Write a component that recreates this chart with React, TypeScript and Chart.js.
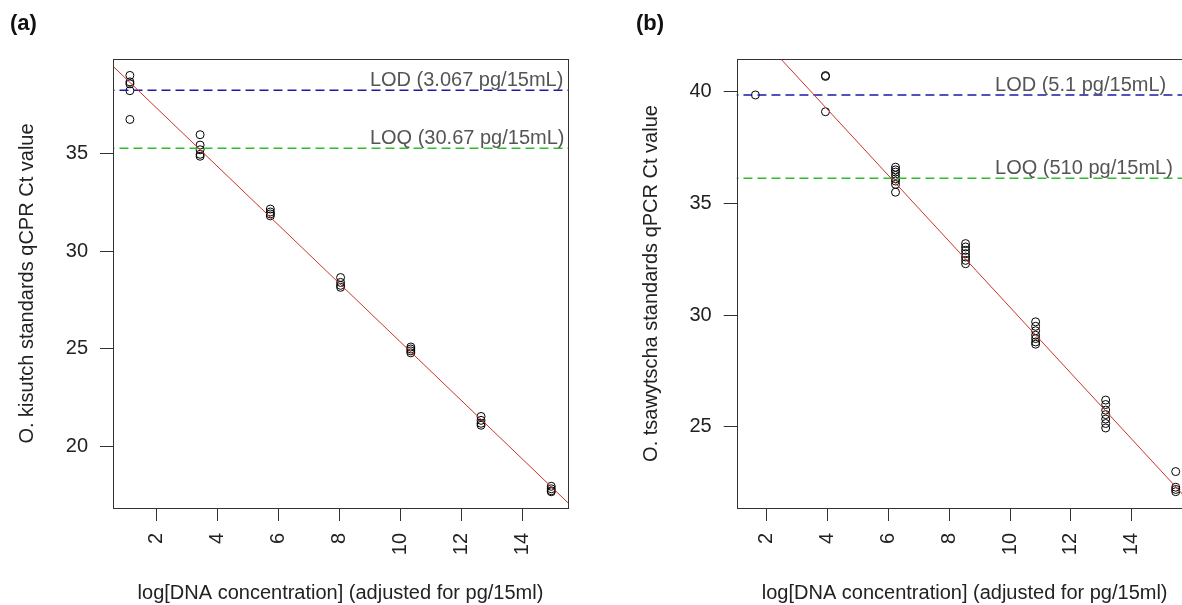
import React, { useEffect, useRef } from "react";
import { Chart, registerables } from "chart.js";

Chart.register(...registerables);

const FONT = "'Liberation Sans', Arial, sans-serif";

// ---------- shared ----------
const xTicks = [2, 4, 6, 8, 10, 12, 14];
const xTitle = "log[DNA concentration] (adjusted for pg/15ml)";

// ---------- panel (a) O. kisutch ----------
const logConcA = [1.121, 3.423, 5.726, 8.029, 10.331, 12.634, 14.936];
const ctA = [
  [38.98, 38.65, 38.55, 38.2, 36.73],
  [35.95, 35.42, 35.18, 34.95, 34.85],
  [32.15, 32.0, 31.9, 31.8],
  [28.65, 28.4, 28.25, 28.15],
  [25.1, 25.0, 24.9, 24.8],
  [21.55, 21.35, 21.2, 21.1],
  [17.98, 17.85, 17.75, 17.7],
];
const yTicksA = [20, 25, 30, 35];
const xRangeA = [0.567, 15.485];
const yRangeA = [16.87, 39.82];
const fitA = { intercept: 40.3, slope: -1.496 };
const limitValuesA = [38.22, 35.26];
const limitLabelsA = ["LOD (3.067 pg/15mL)", "LOQ (30.67 pg/15mL)"];
const yTitleA = "O. kisutch standards qCPR Ct value";

// ---------- panel (b) O. tsawytscha ----------
const logConcB = [1.629, 3.932, 6.234, 8.537, 10.84, 13.143, 15.445];
const ctB = [
  [39.85],
  [40.72, 40.68, 39.1],
  [36.62, 36.5, 36.4, 36.25, 36.1, 36.0, 35.85, 35.5],
  [33.2, 33.05, 32.9, 32.75, 32.6, 32.45, 32.3],
  [29.7, 29.5, 29.3, 29.1, 28.95, 28.8, 28.7],
  [26.2, 26.0, 25.75, 25.55, 25.35, 25.15, 24.95],
  [23.0, 22.3, 22.2, 22.1],
];
const yTicksB = [25, 30, 35, 40];
const xRangeB = [1.014, 16.0];
const yRangeB = [21.37, 41.46];
const fitB = { intercept: 45.1, slope: -1.475 };
const limitValuesB = [39.85, 36.12];
const limitLabelsB = ["LOD (5.1 pg/15mL)", "LOQ (510 pg/15mL)"];
const yTitleB = "O. tsawytscha standards qPCR Ct value";

type PanelCfg = {
  xs: number[];
  cts: number[][];
  yTicks: number[];
  xRange: number[];
  yRange: number[];
  fit: { intercept: number; slope: number };
  limitValues: number[];
  limitLabels: string[];
  limitLabelX: number;
  yTitle: string;
  yTitlePad: number;
  yAxisWidth: number;
  padRight: number;
  panel: string;
  panelX: number;
};

const limitColors = ["#1a1aa8", "#2cbf2c"];
const fitColor = "#c8352d";

function buildChart(canvas: HTMLCanvasElement, c: PanelCfg) {
  const points: { x: number; y: number }[] = [];
  c.xs.forEach((x, i) => c.cts[i].forEach((y) => points.push({ x, y })));

  const span = [c.xRange[0] - 3, c.xRange[1] + 3];

  const limitDatasets = c.limitValues.map((v, i) => ({
    type: "line" as const,
    data: span.map((x) => ({ x, y: v })),
    borderColor: limitColors[i],
    borderWidth: 1.5,
    borderDash: [9, 5],
    pointRadius: 0,
    showLine: true,
    fill: false,
  }));

  const decor = {
    id: "panelDecor",
    afterDatasetsDraw(chart: any) {
      // regression line (abline) through the chart's own scales
      const { ctx, chartArea: a, scales } = chart;
      const xs = scales.x;
      const ys = scales.y;
      ctx.save();
      ctx.beginPath();
      ctx.rect(a.left, a.top, a.right - a.left, a.bottom - a.top);
      ctx.clip();
      ctx.beginPath();
      ctx.moveTo(xs.getPixelForValue(span[0]), ys.getPixelForValue(c.fit.intercept + c.fit.slope * span[0]));
      ctx.lineTo(xs.getPixelForValue(span[1]), ys.getPixelForValue(c.fit.intercept + c.fit.slope * span[1]));
      ctx.setLineDash([]);
      ctx.strokeStyle = fitColor;
      ctx.lineWidth = 1;
      ctx.stroke();
      ctx.beginPath();
      ctx.restore();
    },
    afterDraw(chart: any) {
      const { ctx, chartArea: a, scales } = chart;
      ctx.save();
      ctx.beginPath();
      ctx.setLineDash([]);
      ctx.fillStyle = "#333";
      const l = Math.round(a.left);
      const t = Math.round(a.top);
      const r = Math.round(a.right);
      const b = Math.round(a.bottom);
      ctx.fillRect(l, t, r - l + 1, 1);
      ctx.fillRect(l, b, r - l + 1, 1);
      ctx.fillRect(l, t, 1, b - t + 1);
      ctx.fillRect(r, t, 1, b - t + 1);
      ctx.font = `20px ${FONT}`;
      ctx.fillStyle = "#555";
      ctx.textAlign = "left";
      ctx.textBaseline = "alphabetic";
      c.limitValues.forEach((v, i) => {
        ctx.fillText(
          c.limitLabels[i],
          scales.x.getPixelForValue(c.limitLabelX),
          scales.y.getPixelForValue(v) - 4
        );
      });
      ctx.font = `bold 22px ${FONT}`;
      ctx.fillStyle = "#111";
      ctx.fillText(c.panel, c.panelX, 30);
      ctx.beginPath();
      ctx.restore();
    },
  };

  return new Chart(canvas, {
    type: "scatter",
    data: {
      datasets: [
        ...limitDatasets,
        {
          type: "scatter",
          data: points,
          showLine: false,
          pointStyle: "circle",
          pointRadius: 4,
          borderWidth: 1,
          pointBorderWidth: 1,
          pointBackgroundColor: "rgba(0,0,0,0)",
          pointBorderColor: "#000",
          borderColor: "#000",
          backgroundColor: "rgba(0,0,0,0)",
        },
      ] as any,
    },
    options: {
      responsive: false,
      animation: false,
      events: [],
      layout: { padding: { top: 59, right: c.padRight, left: 0, bottom: 0 } },
      plugins: {
        legend: { display: false },
        tooltip: { enabled: false },
      },
      scales: {
        x: {
          type: "linear",
          min: c.xRange[0],
          max: c.xRange[1],
          afterBuildTicks: (s: any) => {
            s.ticks = xTicks.map((v) => ({ value: v }));
          },
          afterFit: (s: any) => {
            s.height = 97;
          },
          ticks: {
            minRotation: 90,
            maxRotation: 90,
            padding: 12,
            color: "#222",
            font: { family: FONT, size: 20 },
            callback: (v: any) => String(v),
          },
          grid: {
            display: true,
            drawOnChartArea: false,
            drawTicks: true,
            tickLength: 13,
            color: "#333",
          },
          border: { display: false },
          title: {
            display: true,
            text: xTitle,
            color: "#222",
            font: { family: FONT, size: 20 },
            padding: { top: 0, bottom: 0 },
          },
        },
        y: {
          type: "linear",
          min: c.yRange[0],
          max: c.yRange[1],
          afterBuildTicks: (s: any) => {
            s.ticks = c.yTicks.map((v) => ({ value: v }));
          },
          afterFit: (s: any) => {
            s.width = c.yAxisWidth;
          },
          ticks: {
            padding: 12,
            color: "#222",
            font: { family: FONT, size: 20 },
            callback: (v: any) => String(v),
          },
          grid: {
            display: true,
            drawOnChartArea: false,
            drawTicks: true,
            tickLength: 13,
            color: "#333",
          },
          border: { display: false },
          title: {
            display: true,
            text: c.yTitle,
            color: "#222",
            font: { family: FONT, size: 20 },
            padding: { top: c.yTitlePad, bottom: 0 },
          },
        },
      },
    } as any,
    plugins: [decor],
  });
}

const cfgA: PanelCfg = {
  xs: logConcA,
  cts: ctA,
  yTicks: yTicksA,
  xRange: xRangeA,
  yRange: yRangeA,
  fit: fitA,
  limitValues: limitValuesA,
  limitLabels: limitLabelsA,
  limitLabelX: 8.99,
  yTitle: yTitleA,
  yTitlePad: 15.5,
  yAxisWidth: 113,
  padRight: 32,
  panel: "(a)",
  panelX: 10,
};

const cfgB: PanelCfg = {
  xs: logConcB,
  cts: ctB,
  yTicks: yTicksB,
  xRange: xRangeB,
  yRange: yRangeB,
  fit: fitB,
  limitValues: limitValuesB,
  limitLabels: limitLabelsB,
  limitLabelX: 9.505,
  yTitle: yTitleB,
  yTitlePad: 39.7,
  yAxisWidth: 136.7,
  padRight: 37.4,
  panel: "(b)",
  panelX: 36,
};

export default function App() {
  const refA = useRef<HTMLCanvasElement | null>(null);
  const refB = useRef<HTMLCanvasElement | null>(null);

  useEffect(() => {
    const a = buildChart(refA.current!, cfgA);
    const b = buildChart(refB.current!, cfgB);
    return () => {
      a.destroy();
      b.destroy();
    };
  }, []);

  return (
    <div
      style={{
        position: "absolute",
        left: 0,
        top: 0,
        width: 1182,
        height: 605,
        overflow: "hidden",
        background: "#fff",
      }}
    >
      <canvas
        ref={refA}
        width={600}
        height={605}
        style={{ position: "absolute", left: 0, top: 0, width: 600, height: 605 }}
      />
      <canvas
        ref={refB}
        width={630}
        height={605}
        style={{ position: "absolute", left: 600, top: 0, width: 630, height: 605 }}
      />
    </div>
  );
}
